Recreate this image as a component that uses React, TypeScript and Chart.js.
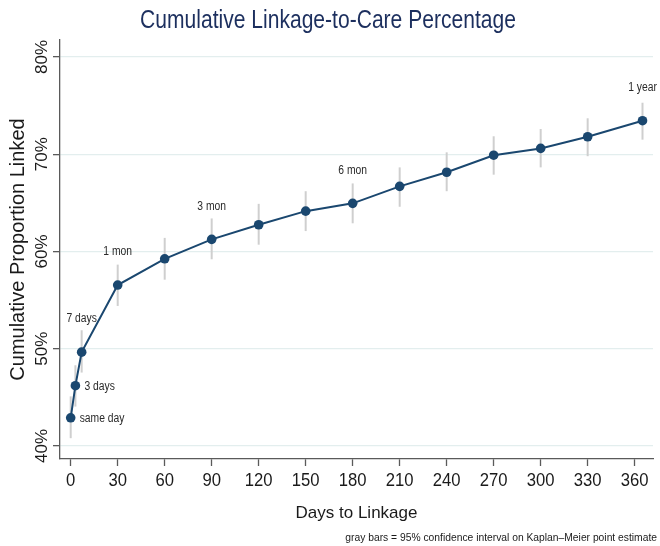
import { useEffect, useRef } from "react";
import { Chart, registerables } from "chart.js";

Chart.register(...registerables);

// ---- data ----
const days = [0, 3, 7, 30, 60, 90, 120, 150, 180, 210, 240, 270, 300, 330, 365];
const estimate = [42.9, 46.2, 49.65, 56.55, 59.25, 61.25, 62.75, 64.15, 64.95, 66.7, 68.15, 69.9, 70.6, 71.8, 73.45];
const ciLower = [40.8, 44.05, 47.55, 54.4, 57.1, 59.2, 60.7, 62.1, 62.9, 64.6, 66.2, 67.9, 68.65, 69.8, 71.5];
const ciUpper = [45.1, 48.3, 51.9, 58.65, 61.4, 63.4, 64.9, 66.2, 67.0, 68.65, 70.2, 71.85, 72.6, 73.7, 75.3];
const pointLabels = ["same day", "3 days", "7 days", "1 mon", "", "3 mon", "", "", "6 mon", "", "", "", "", "", "1 year"];
const labelsToRight = ["same day", "3 days"];
const xTicks = [0, 30, 60, 90, 120, 150, 180, 210, 240, 270, 300, 330, 360];
const yTicks = [40, 50, 60, 70, 80];
const titleText = "Cumulative Linkage-to-Care Percentage";
const xTitle = "Days to Linkage";
const yTitle = "Cumulative Proportion Linked";
const footnote = "gray bars = 95% confidence interval on Kaplan\u2013Meier point estimate";

const FONT = '"Liberation Sans", Arial, Helvetica, sans-serif';
const NAVY = "#1a476f";

function drawText(
  ctx: CanvasRenderingContext2D,
  s: string,
  x: number,
  y: number,
  size: number,
  align: CanvasTextAlign,
  color: string,
  sx = 1,
  rot = 0
) {
  ctx.save();
  ctx.translate(x, y);
  if (rot) ctx.rotate(rot);
  ctx.scale(sx, 1);
  ctx.font = `${size}px ${FONT}`;
  ctx.textAlign = align;
  ctx.textBaseline = "alphabetic";
  ctx.fillStyle = color;
  ctx.fillText(s, 0, 0);
  ctx.restore();
}

const overlay = {
  id: "overlay",
  beforeDatasetsDraw(chart: any) {
    const { ctx, scales } = chart;
    const x = scales.x;
    const y = scales.y;
    ctx.save();
    ctx.strokeStyle = "#cfcfcf";
    ctx.lineWidth = 2;
    days.forEach((d, i) => {
      const px = x.getPixelForValue(d);
      ctx.beginPath();
      ctx.moveTo(px, y.getPixelForValue(ciLower[i]));
      ctx.lineTo(px, y.getPixelForValue(ciUpper[i]));
      ctx.stroke();
    });
    ctx.restore();
  },
  afterDatasetsDraw(chart: any) {
    const { ctx, scales } = chart;
    const x = scales.x;
    const y = scales.y;
    days.forEach((d, i) => {
      const lab = pointLabels[i];
      if (!lab) return;
      const px = x.getPixelForValue(d);
      const py = y.getPixelForValue(estimate[i]);
      if (labelsToRight.includes(lab)) {
        drawText(ctx, lab, px + 9, py + 4.3, 12, "left", "#2a2a2a", 0.86);
      } else {
        drawText(ctx, lab, px, py - 29.7, 12, "center", "#2a2a2a", 0.86);
      }
    });
  },
  afterDraw(chart: any) {
    const { ctx, scales, chartArea } = chart;
    const x = scales.x;
    const y = scales.y;
    // title
    drawText(ctx, titleText, 328, 28, 26, "center", "#1c2f5e", 0.81);
    // x tick labels
    xTicks.forEach((v) => {
      drawText(ctx, String(v), x.getPixelForValue(v), 486, 18.5, "center", "#1a1a1a", 0.9);
    });
    // y tick labels (rotated)
    yTicks.forEach((v) => {
      drawText(ctx, v + "%", 47, y.getPixelForValue(v), 17, "center", "#1a1a1a", 1, -Math.PI / 2);
    });
    // axis titles
    drawText(ctx, xTitle, (chartArea.left + chartArea.right) / 2, 518, 17, "center", "#1a1a1a");
    drawText(ctx, yTitle, 24, (chartArea.top + chartArea.bottom) / 2, 20, "center", "#1a1a1a", 1, -Math.PI / 2);
    // footnote
    drawText(ctx, footnote, 657, 541, 10.3, "right", "#1a1a1a");
  },
};

export default function App() {
  const ref = useRef<HTMLCanvasElement | null>(null);

  useEffect(() => {
    if (!ref.current) return;
    const chart = new Chart(ref.current, {
      type: "line",
      data: {
        datasets: [
          {
            data: days.map((d, i) => ({ x: d, y: estimate[i] })),
            borderColor: NAVY,
            backgroundColor: NAVY,
            borderWidth: 2,
            pointRadius: 4.8,
            pointBorderWidth: 0,
            pointBackgroundColor: NAVY,
            tension: 0,
            fill: false,
          },
        ],
      },
      options: {
        animation: false,
        responsive: false,
        devicePixelRatio: 1,
        layout: { padding: { top: 40, right: 7, left: 0, bottom: 0 } },
        plugins: {
          legend: { display: false },
          tooltip: { enabled: false },
          title: { display: false },
        },
        scales: {
          x: {
            type: "linear",
            min: -6.83,
            max: 371.7,
            afterBuildTicks: (s: any) => {
              s.ticks = xTicks.map((v) => ({ value: v }));
            },
            afterFit: (s: any) => {
              s.height = 87;
            },
            ticks: { display: false },
            grid: {
              drawOnChartArea: false,
              drawTicks: true,
              tickLength: 7,
              tickColor: "#5a5a5a",
              tickWidth: 1.3,
            },
            border: { display: true, color: "#5a5a5a", width: 1.3 },
          },
          y: {
            type: "linear",
            min: 38.66,
            max: 81.75,
            afterBuildTicks: (s: any) => {
              s.ticks = yTicks.map((v) => ({ value: v }));
            },
            afterFit: (s: any) => {
              s.width = 60;
            },
            ticks: { display: false },
            grid: {
              drawOnChartArea: true,
              color: "#e3eeee",
              lineWidth: 1.3,
              drawTicks: true,
              tickLength: 7,
              tickColor: "#5a5a5a",
              tickWidth: 1.3,
            },
            border: { display: true, color: "#5a5a5a", width: 1.3 },
          },
        },
      },
      plugins: [overlay],
    });
    return () => chart.destroy();
  }, []);

  return (
    <div style={{ position: "absolute", left: 0, top: 0, width: 660, height: 546, background: "#fff" }}>
      <canvas ref={ref} width={660} height={546} style={{ display: "block", width: 660, height: 546 }} />
    </div>
  );
}
